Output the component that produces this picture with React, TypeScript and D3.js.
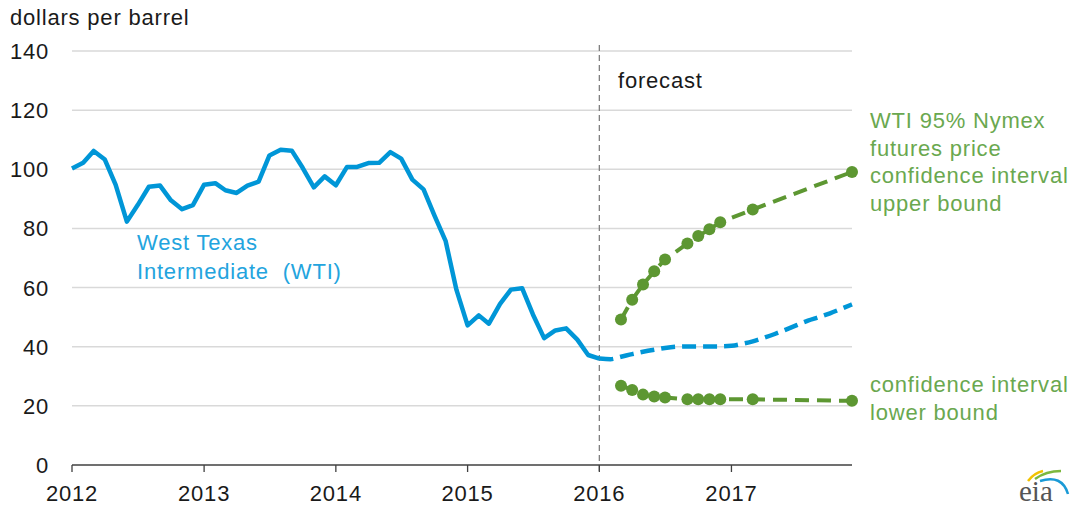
import React, { useEffect, useRef } from 'react';
import * as d3 from 'd3';

// monthly WTI spot price, Jan 2012 .. Jan 2016 (dollars per barrel)
const historyStart = [2012, 0];
const wtiHistory = [
  100.3, 102.2, 106.2, 103.3, 94.7, 82.3, 87.9, 94.1, 94.5, 89.5, 86.5, 87.9,
  94.8, 95.3, 92.9, 92.0, 94.5, 95.8, 104.7, 106.6, 106.3, 100.5, 93.9, 97.6,
  94.6, 100.8, 100.8, 102.1, 102.2, 105.8, 103.6, 96.5, 93.2, 84.4, 75.8, 59.3,
  47.2, 50.6, 47.8, 54.5, 59.3, 59.8, 50.9, 42.9, 45.5, 46.2, 42.4, 37.2,
  36.0,
];

// forecast, Jan 2016 .. Dec 2017
const forecastStart = [2016, 0];
const wtiForecast = [
  36.0, 35.8, 36.6, 37.5, 38.3, 39.0, 39.6, 40.0, 40.1, 40.1, 40.1, 40.1,
  40.3, 41.0, 41.8, 43.0, 44.3, 45.8, 47.3, 48.8, 50.0, 51.3, 52.8, 54.3,
];

// NYMEX 95% confidence interval contract months
const ciMonths = ['2016-03', '2016-04', '2016-05', '2016-06', '2016-07', '2016-09', '2016-10', '2016-11', '2016-12', '2017-03', '2017-12'];
const ciUpper = [49.2, 55.9, 61.0, 65.5, 69.5, 74.9, 77.4, 79.7, 82.1, 86.4, 99.1];
const ciLower = [26.8, 25.4, 23.8, 23.2, 22.8, 22.2, 22.2, 22.2, 22.2, 22.2, 21.7];

const yTicks = [0, 20, 40, 60, 80, 100, 120, 140];
const xTickYears = [2012, 2013, 2014, 2015, 2016, 2017];

const BLUE = '#0096d7';
const GREEN = '#5d9732';
const GREEN_TEXT = '#6aa84f';
const FONT = '"Liberation Sans", Arial, sans-serif';

const monthDate = (start: number[], i: number) => new Date(start[0], start[1] + i, 1);

export default function App() {
  const svgRef = useRef<SVGSVGElement>(null);

  useEffect(() => {
    if (!svgRef.current) return;
    const svg = d3.select(svgRef.current);
    svg.selectAll('*').remove();

    const x = d3.scaleTime()
      .domain([new Date(2012, 0, 1), new Date(2017, 11, 1)])
      .range([72, 852]);
    const y = d3.scaleLinear().domain([0, 140]).range([465, 51]);

    const txt = (sel: any) => sel.attr('font-family', FONT).attr('font-size', 22).attr('letter-spacing', 0.8);

    // gridlines
    svg.append('g')
      .selectAll('line')
      .data(yTicks.filter(d => d > 0))
      .enter()
      .append('line')
      .attr('x1', 72)
      .attr('x2', 852)
      .attr('y1', d => y(d))
      .attr('y2', d => y(d))
      .attr('stroke', '#d9d9d9')
      .attr('stroke-width', 1.5);

    // y labels
    svg.append('g')
      .selectAll('text')
      .data(yTicks)
      .enter()
      .append('text')
      .call(txt)
      .attr('x', 49)
      .attr('y', d => y(d) + 8)
      .attr('text-anchor', 'end')
      .attr('fill', '#1a1a1a')
      .text(d => d);

    svg.append('text')
      .call(txt)
      .attr('x', 10)
      .attr('y', 25)
      .attr('fill', '#1a1a1a')
      .text('dollars per barrel');

    // forecast divider
    svg.append('line')
      .attr('x1', x(new Date(2016, 0, 1)))
      .attr('x2', x(new Date(2016, 0, 1)))
      .attr('y1', 45)
      .attr('y2', 471)
      .attr('stroke', '#7f7f7f')
      .attr('stroke-width', 1.3)
      .attr('stroke-dasharray', '6,4');

    svg.append('text')
      .call(txt)
      .attr('x', 618)
      .attr('y', 88)
      .attr('fill', '#1a1a1a')
      .text('forecast');

    // x axis
    svg.append('line')
      .attr('x1', 72)
      .attr('x2', 852)
      .attr('y1', 465)
      .attr('y2', 465)
      .attr('stroke', '#404040')
      .attr('stroke-width', 1.6);

    const xt = svg.append('g')
      .selectAll('g')
      .data(xTickYears)
      .enter()
      .append('g')
      .attr('transform', d => `translate(${x(new Date(d, 0, 1))},0)`);
    xt.append('line').attr('y1', 465).attr('y2', 472).attr('stroke', '#404040').attr('stroke-width', 1.3);
    xt.append('text')
      .call(txt)
      .attr('y', 501)
      .attr('text-anchor', 'middle')
      .attr('fill', '#1a1a1a')
      .text(d => d);

    // WTI history
    const line = d3.line<any>().x(d => x(d[0])).y(d => y(d[1]));
    svg.append('path')
      .datum(wtiHistory.map((v, i) => [monthDate(historyStart, i), v]))
      .attr('d', line)
      .attr('fill', 'none')
      .attr('stroke', BLUE)
      .attr('stroke-width', 4.5)
      .attr('stroke-linejoin', 'round');

    svg.append('path')
      .datum(wtiForecast.map((v, i) => [monthDate(forecastStart, i), v]))
      .attr('d', line.curve(d3.curveMonotoneX))
      .attr('fill', 'none')
      .attr('stroke', BLUE)
      .attr('stroke-width', 4.5)
      .attr('stroke-dasharray', '14,7');

    // confidence interval
    const ciDates = ciMonths.map(m => {
      const [yr, mo] = m.split('-').map(Number);
      return new Date(yr, mo - 1, 1);
    });
    const ciLine = d3.line<any>().x(d => x(d[0])).y(d => y(d[1]));
    [ciUpper, ciLower].forEach(series => {
      const pts = series.map((v, i) => [ciDates[i], v]);
      svg.append('path')
        .datum(pts)
        .attr('d', ciLine)
        .attr('fill', 'none')
        .attr('stroke', GREEN)
        .attr('stroke-width', 4)
        .attr('stroke-dasharray', '14,8');
      svg.append('g')
        .selectAll('circle')
        .data(pts)
        .enter()
        .append('circle')
        .attr('cx', d => x(d[0] as Date))
        .attr('cy', d => y(d[1] as number))
        .attr('r', 6)
        .attr('fill', GREEN);
    });

    // annotations
    const wti = svg.append('text').call(txt).attr('fill', '#23a4de').style('white-space', 'pre');
    wti.append('tspan').attr('x', 137).attr('y', 250).text('West Texas');
    wti.append('tspan').attr('x', 137).attr('y', 279).text('Intermediate\u00a0 (WTI)');

    const up = svg.append('text').call(txt).attr('fill', GREEN_TEXT);
    ['WTI 95% Nymex', 'futures price', 'confidence interval', 'upper bound'].forEach((s, i) => {
      up.append('tspan').attr('x', 870).attr('y', 128 + i * 27.7).text(s);
    });
    const lo = svg.append('text').call(txt).attr('fill', GREEN_TEXT);
    ['confidence interval', 'lower bound'].forEach((s, i) => {
      lo.append('tspan').attr('x', 870).attr('y', 392 + i * 27.5).text(s);
    });

    // eia logo
    const logo = svg.append('g');
    logo.append('path').attr('d', 'M1028,481 Q1034,473 1043,471').attr('stroke', '#f2c200').attr('stroke-width', 2.5).attr('fill', 'none');
    logo.append('path').attr('d', 'M1035,479 Q1046,471 1061,471').attr('stroke', '#7cb83f').attr('stroke-width', 2.5).attr('fill', 'none');
    logo.append('path').attr('d', 'M1040,481 Q1062,474 1068,494').attr('stroke', '#1a9ad6').attr('stroke-width', 2.5).attr('fill', 'none');
    logo.append('text')
      .attr('x', 1019)
      .attr('y', 501)
      .attr('font-family', '"Liberation Serif", "Times New Roman", serif')
      .attr('font-size', 29)
      .attr('fill', '#555555')
      .text('eia');
  }, []);

  return (
    <svg
      ref={svgRef}
      width={1078}
      height={508}
      viewBox="0 0 1078 508"
      style={{ position: 'absolute', left: 0, top: 0, background: '#ffffff' }}
    />
  );
}
